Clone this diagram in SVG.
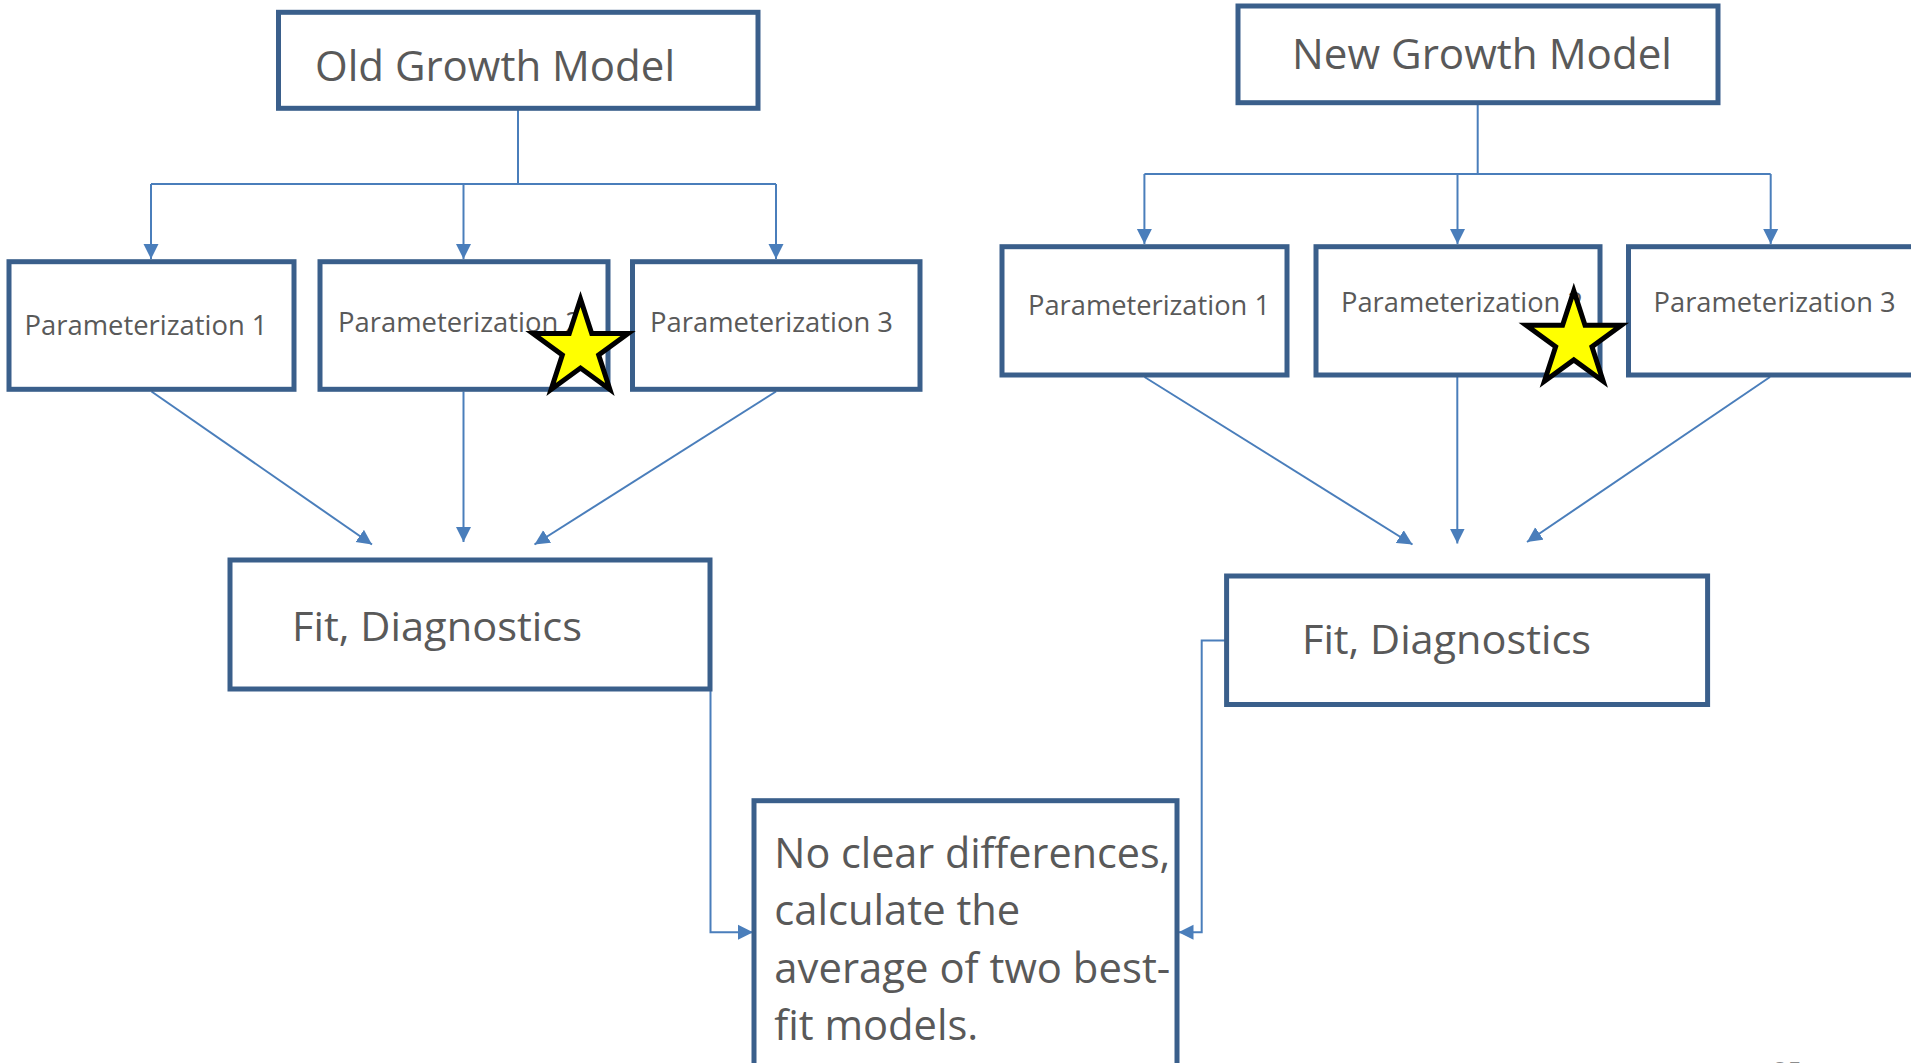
<svg xmlns="http://www.w3.org/2000/svg" width="1911" height="1063" viewBox="0 0 1911 1063">
<defs>
<style>
.box{fill:#FFFFFF;stroke:#3A5F8B;stroke-width:5;}
.t{font-family:"Open Sans","Liberation Sans",sans-serif;fill:#595959;}
.big{font-size:42px;}
.fit{font-size:41px;}
.par{font-size:27.5px;}
.bot{font-size:41.5px;}
.c{fill:none;stroke:#4A7EBB;stroke-width:2;}
.star{fill:#FFFF00;stroke:#000000;stroke-width:5;stroke-miterlimit:10;stroke-linejoin:miter;}
</style>
<marker id="ah" markerUnits="userSpaceOnUse" markerWidth="16" markerHeight="16" viewBox="0 0 16 16" refX="15" refY="8" orient="auto">
<path d="M0,0.5 L15,8 L0,15.5 Z" fill="#4A7EBB"/>
</marker>
<path id="starShape" d="M0,-50 L11.23,-15.45 L47.55,-15.45 L18.17,5.9 L29.39,40.45 L0,19.1 L-29.39,40.45 L-18.17,5.9 L-47.55,-15.45 L-11.23,-15.45 Z"/>
</defs>
<rect x="0" y="0" width="1911" height="1063" fill="#FFFFFF"/>

<g id="connectors">
<polyline class="c" points="518,108 518,184"/>
<polyline class="c" points="151,184 776,184"/>
<polyline class="c" points="151,184 151,259" marker-end="url(#ah)"/>
<polyline class="c" points="463.5,184 463.5,259" marker-end="url(#ah)"/>
<polyline class="c" points="776,184 776,259" marker-end="url(#ah)"/>
<line class="c" x1="151.5" y1="391.5" x2="372" y2="544.5" marker-end="url(#ah)"/>
<line class="c" x1="463.5" y1="391.5" x2="463.5" y2="542" marker-end="url(#ah)"/>
<line class="c" x1="776" y1="391.5" x2="534.5" y2="544.5" marker-end="url(#ah)"/>
<polyline class="c" points="710.5,689 710.5,932.3 753,932.3" marker-end="url(#ah)"/>

<polyline class="c" points="1477.7,102.7 1477.7,174"/>
<polyline class="c" points="1144.4,174 1770.7,174"/>
<polyline class="c" points="1144.4,174 1144.4,244" marker-end="url(#ah)"/>
<polyline class="c" points="1457.5,174 1457.5,244" marker-end="url(#ah)"/>
<polyline class="c" points="1770.7,174 1770.7,244" marker-end="url(#ah)"/>
<line class="c" x1="1144.5" y1="377" x2="1412.5" y2="544.5" marker-end="url(#ah)"/>
<line class="c" x1="1457.3" y1="377" x2="1457.3" y2="543.5" marker-end="url(#ah)"/>
<line class="c" x1="1770" y1="377" x2="1527" y2="542" marker-end="url(#ah)"/>
<polyline class="c" points="1226,640.6 1201.7,640.6 1201.7,932.3 1178.5,932.3" marker-end="url(#ah)"/>
</g>

<g id="old-growth-model">
<rect class="box" x="278.5" y="12.3" width="479.5" height="96"/>
<text class="t big" x="315" y="80.7" textLength="360" lengthAdjust="spacingAndGlyphs">Old Growth Model</text>
</g>
<g id="old-param-1">
<rect class="box" x="9" y="261.7" width="285" height="127.6"/>
<text class="t par" x="24.5" y="335" textLength="243" lengthAdjust="spacingAndGlyphs">Parameterization 1</text>
</g>
<g id="old-param-2">
<rect class="box" x="320" y="261.7" width="288" height="127.6"/>
<text class="t par" x="338" y="331.7" textLength="243" lengthAdjust="spacingAndGlyphs">Parameterization 2</text>
</g>
<g id="old-param-3">
<rect class="box" x="632.5" y="261.7" width="287.5" height="127.6"/>
<text class="t par" x="650" y="331.7" textLength="243" lengthAdjust="spacingAndGlyphs">Parameterization 3</text>
</g>
<g id="old-star">
<use href="#starShape" class="star" transform="translate(580.5,349)"/>
</g>
<g id="old-fit">
<rect class="box" x="230" y="560" width="480" height="129"/>
<text class="t fit" x="292" y="640.5" textLength="290" lengthAdjust="spacingAndGlyphs">Fit, Diagnostics</text>
</g>

<g id="new-growth-model">
<rect class="box" x="1238" y="6" width="480" height="96.7"/>
<text class="t big" x="1292" y="69.3" textLength="380" lengthAdjust="spacingAndGlyphs">New Growth Model</text>
</g>
<g id="new-param-1">
<rect class="box" x="1002" y="246.7" width="285" height="128.3"/>
<text class="t par" x="1028" y="315" textLength="242" lengthAdjust="spacingAndGlyphs">Parameterization 1</text>
</g>
<g id="new-param-2">
<rect class="box" x="1316" y="246.7" width="284" height="128.3"/>
<text class="t par" x="1341" y="312.3" textLength="242" lengthAdjust="spacingAndGlyphs">Parameterization 2</text>
</g>
<g id="new-param-3">
<rect class="box" x="1628.5" y="246.7" width="287" height="128.3"/>
<text class="t par" x="1653.6" y="312.3" textLength="242" lengthAdjust="spacingAndGlyphs">Parameterization 3</text>
</g>
<g id="new-star">
<use href="#starShape" class="star" transform="translate(1573.8,340.8)"/>
</g>
<g id="new-fit">
<rect class="box" x="1226.6" y="576" width="481" height="128.5"/>
<text class="t fit" x="1302" y="653.5" textLength="289" lengthAdjust="spacingAndGlyphs">Fit, Diagnostics</text>
</g>

<g id="conclusion">
<rect class="box" x="754" y="800.7" width="423" height="280"/>
<text class="t bot" x="774.3" y="868.3" textLength="396" lengthAdjust="spacingAndGlyphs">No clear differences,</text>
<text class="t bot" x="774.3" y="925.3" textLength="246" lengthAdjust="spacingAndGlyphs">calculate the</text>
<text class="t bot" x="774.3" y="983" textLength="396" lengthAdjust="spacingAndGlyphs">average of two best-</text>
<text class="t bot" x="774.3" y="1040" textLength="204" lengthAdjust="spacingAndGlyphs">fit models.</text>
</g>

<text class="t" x="1773" y="1080" font-size="26" fill="#8C8C8C" style="fill:#8C8C8C" textLength="29" lengthAdjust="spacingAndGlyphs">25</text>
</svg>
